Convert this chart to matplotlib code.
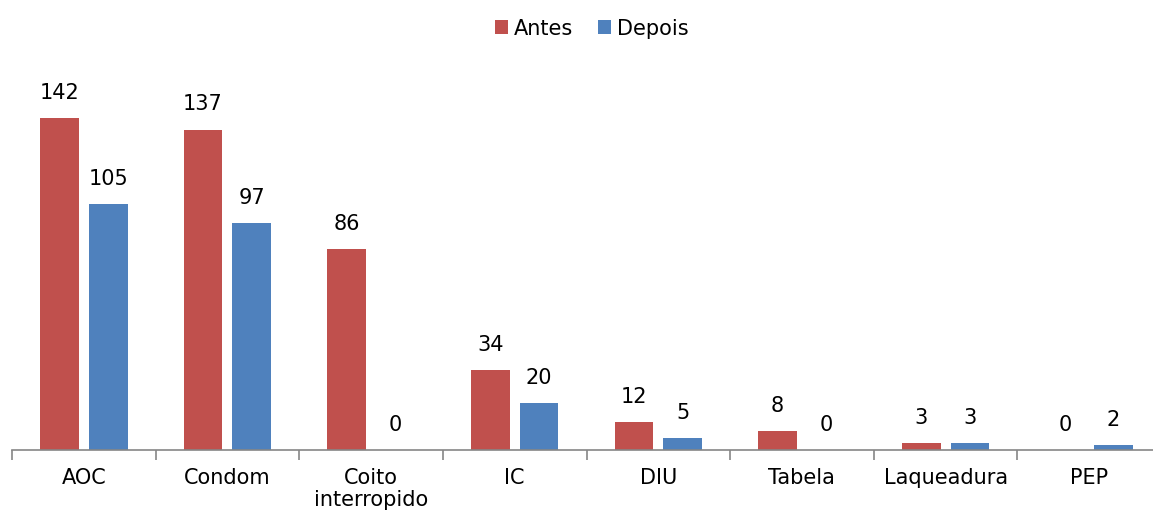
import matplotlib.pyplot as plt
import numpy as np

categories = ["AOC", "Condom", "Coito\ninterropido", "IC", "DIU", "Tabela", "Laqueadura", "PEP"]
antes = [142, 137, 86, 34, 12, 8, 3, 0]
depois = [105, 97, 0, 20, 5, 0, 3, 2]

red = "#C0504D"
blue = "#4F81BD"

fig = plt.figure(figsize=(11.53, 5.13), dpi=100)
# axes spans a bit past the right edge, as in the original
ax = fig.add_axes([12 / 1153, 63 / 513, 1149 / 1153, 387 / 513])

x = np.arange(len(categories))
w = 0.27
off = 0.17
b1 = ax.bar(x - off, antes, w, color=red, label="Antes")
b2 = ax.bar(x + off, depois, w, color=blue, label="Depois")

for bars, vals in [(b1, antes), (b2, depois)]:
    for r, v in zip(bars, vals):
        ax.annotate(str(v), (r.get_x() + r.get_width() / 2, v),
                    xytext=(0, 11), textcoords="offset points",
                    ha="center", va="bottom", fontsize=15)

ax.set_xlim(-0.5, len(categories) - 0.5)
ax.set_ylim(0, 165.5)
for s in ["top", "right", "left"]:
    ax.spines[s].set_visible(False)
ax.spines["bottom"].set_color("#868686")
ax.spines["bottom"].set_linewidth(1.2)
ax.set_yticks([])

ax.set_xticks(np.arange(len(categories) + 1) - 0.5)
ax.set_xticklabels([])
ax.tick_params(axis="x", which="major", length=7, color="#868686", width=1.2)
ax.set_xticks(x, minor=True)
ax.set_xticklabels(categories, minor=True, fontsize=15, linespacing=1.15)
ax.tick_params(axis="x", which="minor", length=0, pad=13)
for t in ax.get_xticklabels(minor=True):
    t.set_verticalalignment("top")

fig.legend(loc="upper center", bbox_to_anchor=(0.513, 1.0), ncol=2, frameon=False,
           fontsize=15, handlelength=0.65, handleheight=0.65, handletextpad=0.25,
           columnspacing=1.2)

fig.savefig("out.png", dpi=100)
